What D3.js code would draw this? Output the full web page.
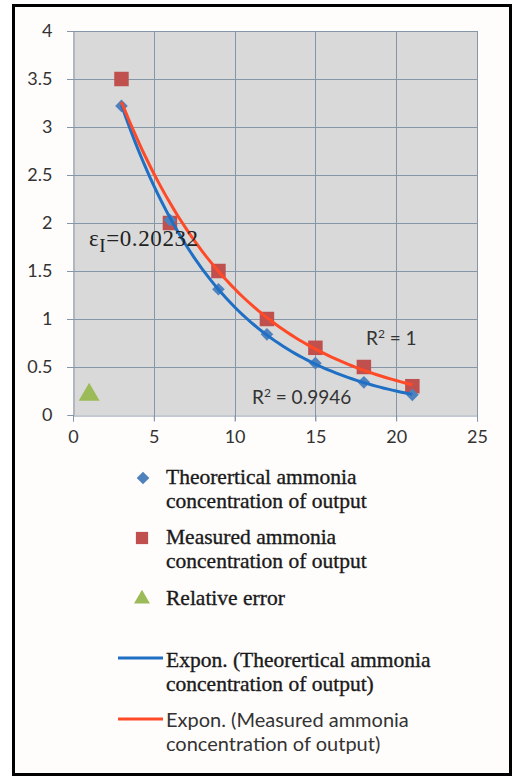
<!DOCTYPE html>
<html>
<head>
<meta charset="utf-8">
<script src="https://cdn.jsdelivr.net/npm/d3@7"></script>
<style>
  body { margin: 0; background: #fff; }
</style>
</head>
<body>
<div id="chart"></div>
<script>
const width = 514;
const height = 776;

// data
const xValues = [3, 6, 9, 12, 15, 18, 21];
const theoretical = [3.22, 2.03, 1.31, 0.84, 0.54, 0.34, 0.21];
const measured = [3.5, 2.0, 1.5, 1.0, 0.7, 0.5, 0.3];
const relErrX = [1];
const relErr = [0.2];
const xTicks = [0, 5, 10, 15, 20, 25];
const yTicks = [0, 0.5, 1, 1.5, 2, 2.5, 3, 3.5, 4];

const margin = { left: 73, right: 37, top: 31, bottom: 361 };

const x = d3.scaleLinear().domain([0, 25]).range([margin.left, width - margin.right]);
const y = d3.scaleLinear().domain([0, 4]).range([height - margin.bottom, margin.top]);

const svg = d3.create('svg')
  .attr('width', width)
  .attr('height', height);

// frame
svg.append('rect')
  .attr('x', 13.5).attr('y', 5.5)
  .attr('width', 497).attr('height', 769)
  .attr('fill', '#fffdfc')
  .attr('stroke', '#000')
  .attr('stroke-width', 3);

// plot area
svg.append('rect')
  .attr('x', x(0)).attr('y', y(4))
  .attr('width', x(25) - x(0)).attr('height', y(0) - y(4))
  .attr('fill', '#d9d9d9');

const gridColor = '#8596a8';

svg.append('g')
  .selectAll('line')
  .data(yTicks.filter(d => d > 0))
  .join('line')
  .attr('x1', x(0) - 6).attr('x2', x(25))
  .attr('y1', d => Math.round(y(d)) + 0.5).attr('y2', d => Math.round(y(d)) + 0.5)
  .attr('stroke', gridColor);

svg.append('g')
  .selectAll('line')
  .data(xTicks.filter(d => d > 0))
  .join('line')
  .attr('y1', y(4)).attr('y2', y(0) + 6)
  .attr('x1', d => Math.round(x(d)) + 0.5).attr('x2', d => Math.round(x(d)) + 0.5)
  .attr('stroke', gridColor);

// axes
const xAxis = svg.append('g')
  .attr('transform', `translate(0,${Math.round(y(0)) + 0.5})`)
  .call(d3.axisBottom(x).tickValues(xTicks).tickSize(6).tickPadding(9).tickFormat(d3.format('d')));
const yAxis = svg.append('g')
  .attr('transform', `translate(${Math.round(x(0)) + 0.5},0)`)
  .call(d3.axisLeft(y).tickValues(yTicks).tickSize(6).tickPadding(15).tickFormat(d => d));

[xAxis, yAxis].forEach(a => {
  a.select('.domain').attr('stroke', gridColor);
  a.selectAll('.tick line').attr('stroke', gridColor);
  a.selectAll('.tick text')
    .attr('fill', '#333')
    .style('font-family', 'Lato, sans-serif')
    .style('font-size', '18px');
});

// exponential trendlines: least squares on ln(y)
function expFit(xs, ys) {
  const ls = ys.map(Math.log);
  const mx = d3.mean(xs), ml = d3.mean(ls);
  const b = d3.sum(xs, (v, i) => (v - mx) * (ls[i] - ml)) / d3.sum(xs, v => (v - mx) ** 2);
  const a = Math.exp(ml - b * mx);
  return t => a * Math.exp(b * t);
}
const fitT = expFit(xValues, theoretical);
const fitM = expFit(xValues, measured);
const curveX = d3.range(xValues[0], xValues[xValues.length - 1] + 0.001, 0.25);
const line = f => d3.line().x(d => x(d)).y(d => y(f(d)))(curveX);

// markers
svg.append('g')
  .selectAll('path')
  .data(measured)
  .join('path')
  .attr('d', d3.symbol(d3.symbolSquare, 210))
  .attr('transform', (d, i) => `translate(${x(xValues[i])},${y(d)})`)
  .attr('fill', '#c0504d');

svg.append('g')
  .selectAll('path')
  .data(theoretical)
  .join('path')
  .attr('d', d3.symbol(d3.symbolSquare, 80))
  .attr('transform', (d, i) => `translate(${x(xValues[i])},${y(d)}) rotate(45)`)
  .attr('fill', '#4f81bd');

svg.append('g')
  .selectAll('path')
  .data(relErr)
  .join('path')
  .attr('d', d3.symbol(d3.symbolTriangle, 190))
  .attr('transform', (d, i) => `translate(${x(relErrX[i])},${y(d) - 1})`)
  .attr('fill', '#9bbb59');

svg.append('path')
  .attr('d', line(fitT))
  .attr('fill', 'none')
  .attr('stroke', '#1f6fc4')
  .attr('stroke-width', 3);

svg.append('path')
  .attr('d', line(fitM))
  .attr('fill', 'none')
  .attr('stroke', '#ff4a28')
  .attr('stroke-width', 3);

// annotations
const eps = svg.append('text')
  .attr('x', 89).attr('y', 246)
  .style('font-family', '"Liberation Serif", serif')
  .style('font-size', '23px')
  .style('letter-spacing', '0.6px')
  .attr('fill', '#222');
eps.append('tspan').text('ε');
eps.append('tspan').attr('dy', 6).style('font-size', '19px').text('I');
eps.append('tspan').attr('dy', -6).text('=0.20232');

svg.append('text')
  .attr('x', 366).attr('y', 345)
  .style('font-family', 'Lato, sans-serif')
  .style('font-size', '19px')
  .attr('fill', '#333')
  .html('R<tspan dy="-7" font-size="12">2</tspan><tspan dy="7"> = 1</tspan>');

svg.append('text')
  .attr('x', 252).attr('y', 404)
  .style('font-family', 'Lato, sans-serif')
  .style('font-size', '19px')
  .attr('fill', '#333')
  .html('R<tspan dy="-7" font-size="12">2</tspan><tspan dy="7"> = 0.9946</tspan>');

// legend
const legend = svg.append('g');
const serif = '"Liberation Serif", serif';
const sans = 'Lato, sans-serif';

function legendText(lines, yc, font) {
  const t = legend.append('text')
    .attr('x', 166)
    .style('font-family', font)
    .style('font-size', font === serif ? '21.5px' : '20px')
    .attr('fill', font === serif ? '#1a1a1a' : '#333')
    .attr('stroke', font === serif ? '#1a1a1a' : 'none')
    .attr('stroke-width', 0.35);
  lines.forEach((s, i) => {
    t.append('tspan').attr('x', 166).attr('y', yc + i * 24 + 6).text(s);
  });
}

legend.append('path')
  .attr('d', d3.symbol(d3.symbolSquare, 80))
  .attr('transform', 'translate(143,478) rotate(45)')
  .attr('fill', '#4f81bd');
legendText(['Theorertical ammonia', 'concentration of output'], 478, serif);

legend.append('path')
  .attr('d', d3.symbol(d3.symbolSquare, 150))
  .attr('transform', 'translate(142,538)')
  .attr('fill', '#c0504d');
legendText(['Measured ammonia', 'concentration of output'], 538, serif);

legend.append('path')
  .attr('d', d3.symbol(d3.symbolTriangle, 110))
  .attr('transform', 'translate(142,599)')
  .attr('fill', '#9bbb59');
legendText(['Relative error'], 599, serif);

legend.append('line')
  .attr('x1', 118).attr('x2', 163).attr('y1', 658).attr('y2', 658)
  .attr('stroke', '#1f6fc4').attr('stroke-width', 3);
legendText(['Expon. (Theorertical ammonia', 'concentration of output)'], 661, serif);

legend.append('line')
  .attr('x1', 118).attr('x2', 163).attr('y1', 719).attr('y2', 719)
  .attr('stroke', '#ff4a28').attr('stroke-width', 3);
legendText(['Expon. (Measured ammonia', 'concentration of output)'], 721, sans);

document.getElementById('chart').appendChild(svg.node());
</script>
</body>
</html>
